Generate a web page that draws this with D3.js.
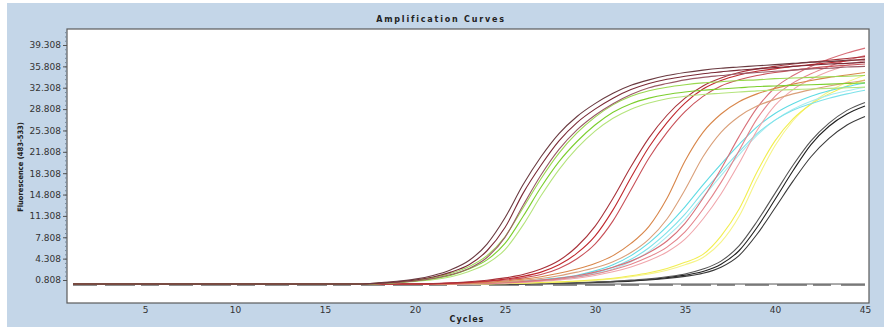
<!DOCTYPE html>
<html>
<head>
<meta charset="utf-8">
<script src="https://cdn.jsdelivr.net/npm/d3@7"></script>
<style>
  body { margin: 0; background: #ffffff; }
  svg { display: block; }
</style>
</head>
<body>
<div id="container"></div>
<script>
let w = 884;
let h = 331;

// ---- data (fluorescence 483-533, read per cycle) ----
let cycles = [1,2,3,4,5, 6,7,8,9,10, 11,12,13,14,15, 16,17,18,19,20, 21,22,23,24,25, 26,27,28,29,30, 31,32,33,34,35, 36,37,38,39,40, 41,42,43,44,45];

let maroon1 = [0.15,0.15,0.15,0.15,0.15, 0.15,0.15,0.15,0.15,0.15, 0.15,0.15,0.15,0.15,0.15, 0.15,0.15,0.3,0.5,0.8, 1.3,2.1,3.3,5.6,9.4, 15.0,19.6,23.6,26.6,28.8, 30.6,32.0,33.0,33.7,34.2, 34.6,34.9,35.2,35.4,35.6, 35.8,36.0,36.2,36.3,36.5];
let maroon2 = [0.15,0.15,0.15,0.15,0.15, 0.15,0.15,0.15,0.15,0.15, 0.15,0.15,0.15,0.15,0.15, 0.15,0.15,0.35,0.6,0.95, 1.55,2.5,4.0,6.7,11.0, 16.4,21.0,24.8,27.6,29.7, 31.4,32.7,33.6,34.3,34.8, 35.2,35.5,35.7,35.9,36.1, 36.3,36.5,36.6,36.8,36.9];
let maroon3 = [0.15,0.15,0.15,0.15,0.15, 0.15,0.15,0.15,0.15,0.15, 0.15,0.15,0.15,0.15,0.15, 0.15,0.15,0.25,0.4,0.65, 1.05,1.7,2.7,4.5,7.8, 13.0,18.0,22.2,25.4,27.8, 29.7,31.2,32.3,33.0,33.6, 34.0,34.3,34.6,34.8,35.0, 35.2,35.4,35.5,35.7,35.8];

let green1 = [0.15,0.15,0.15,0.15,0.15, 0.15,0.15,0.15,0.15,0.15, 0.15,0.15,0.15,0.15,0.15, 0.15,0.15,0.25,0.4,0.65, 1.0,1.6,2.6,4.1,6.8, 11.2,16.0,20.2,23.5,26.2, 28.3,29.7,30.6,31.2,31.6, 31.9,32.1,32.3,32.5,32.6, 32.7,32.8,32.9,33.0,33.1];
let green2 = [0.15,0.15,0.15,0.15,0.15, 0.15,0.15,0.15,0.15,0.15, 0.15,0.15,0.15,0.15,0.15, 0.15,0.15,0.3,0.45,0.75, 1.2,1.9,3.0,4.8,7.9, 12.6,17.4,21.6,24.9,27.5, 29.5,30.9,31.8,32.4,32.8, 33.1,33.3,33.5,33.6,33.8, 33.9,34.0,34.1,34.2,34.3];
let green3 = [0.15,0.15,0.15,0.15,0.15, 0.15,0.15,0.15,0.15,0.15, 0.15,0.15,0.15,0.15,0.15, 0.15,0.15,0.2,0.35,0.55, 0.85,1.35,2.2,3.5,5.8, 9.8,14.6,18.9,22.4,25.2, 27.3,28.8,29.8,30.5,30.9, 31.2,31.4,31.6,31.8,31.9, 32.0,32.1,32.2,32.3,32.4];

let red1 = [0.15,0.15,0.15,0.15,0.15, 0.15,0.15,0.15,0.15,0.15, 0.15,0.15,0.15,0.15,0.15, 0.15,0.15,0.15,0.15,0.15, 0.2,0.3,0.45,0.65,0.95, 1.4,2.1,3.3,5.2,8.0, 12.3,17.6,22.6,26.6,29.8, 32.1,33.5,34.4,35.0,35.4, 35.8,36.1,36.4,36.7,37.0];
let red2 = [0.15,0.15,0.15,0.15,0.15, 0.15,0.15,0.15,0.15,0.15, 0.15,0.15,0.15,0.15,0.15, 0.15,0.15,0.15,0.15,0.15, 0.22,0.35,0.52,0.78,1.15, 1.7,2.6,4.0,6.3,9.6, 14.2,19.4,24.1,27.8,30.6, 32.6,33.9,34.8,35.4,35.8, 36.2,36.5,36.8,37.1,37.4];
let red3 = [0.15,0.15,0.15,0.15,0.15, 0.15,0.15,0.15,0.15,0.15, 0.15,0.15,0.15,0.15,0.15, 0.15,0.15,0.15,0.15,0.15, 0.18,0.26,0.38,0.55,0.8, 1.15,1.7,2.7,4.3,6.7, 10.5,15.6,20.8,25.0,28.4, 30.9,32.6,33.6,34.3,34.8, 35.2,35.5,35.8,36.0,36.2];

let orange1 = [0.15,0.15,0.15,0.15,0.15, 0.15,0.15,0.15,0.15,0.15, 0.15,0.15,0.15,0.15,0.15, 0.15,0.15,0.15,0.15,0.15, 0.15,0.2,0.3,0.45,0.65, 0.95,1.35,1.9,2.6,3.5, 4.8,6.8,9.6,14.2,20.3, 25.0,28.0,30.0,31.3,32.2, 32.9,33.5,34.0,34.4,34.8];
let orange2 = [0.15,0.15,0.15,0.15,0.15, 0.15,0.15,0.15,0.15,0.15, 0.15,0.15,0.15,0.15,0.15, 0.15,0.15,0.15,0.15,0.15, 0.15,0.18,0.25,0.35,0.5, 0.75,1.05,1.5,2.1,2.8, 3.8,5.3,7.5,10.8,15.6, 21.0,25.0,27.6,29.3,30.4, 31.3,32.0,32.6,33.1,33.5];

let cyan1 = [0.15,0.15,0.15,0.15,0.15, 0.15,0.15,0.15,0.15,0.15, 0.15,0.15,0.15,0.15,0.15, 0.15,0.15,0.15,0.15,0.15, 0.15,0.15,0.2,0.3,0.4, 0.55,0.75,1.0,1.4,2.0, 2.9,4.2,6.1,8.6,11.6, 15.2,18.5,21.8,24.8,27.0, 28.6,29.7,30.6,31.3,31.9];
let cyan2 = [0.15,0.15,0.15,0.15,0.15, 0.15,0.15,0.15,0.15,0.15, 0.15,0.15,0.15,0.15,0.15, 0.15,0.15,0.15,0.15,0.15, 0.15,0.15,0.22,0.32,0.45, 0.62,0.85,1.15,1.6,2.3, 3.3,4.8,6.9,9.6,12.8, 16.4,19.8,23.0,25.9,28.1, 29.7,30.9,31.8,32.5,33.1];
let cyan3 = [0.15,0.15,0.15,0.15,0.15, 0.15,0.15,0.15,0.15,0.15, 0.15,0.15,0.15,0.15,0.15, 0.15,0.15,0.15,0.15,0.15, 0.15,0.15,0.18,0.26,0.36, 0.5,0.68,0.9,1.25,1.8, 2.6,3.8,5.5,7.9,10.8, 14.4,17.9,21.3,24.5,27.0, 28.8,30.1,31.1,31.8,32.4];

let pink1 = [0.15,0.15,0.15,0.15,0.15, 0.15,0.15,0.15,0.15,0.15, 0.15,0.15,0.15,0.15,0.15, 0.15,0.15,0.15,0.15,0.15, 0.15,0.15,0.2,0.25,0.35, 0.5,0.7,0.95,1.3,1.8, 2.5,3.4,4.6,6.2,8.7, 12.4,16.8,22.0,27.2,30.9, 33.1,34.6,35.8,36.8,37.6];
let pink2 = [0.15,0.15,0.15,0.15,0.15, 0.15,0.15,0.15,0.15,0.15, 0.15,0.15,0.15,0.15,0.15, 0.15,0.15,0.15,0.15,0.15, 0.15,0.15,0.22,0.3,0.42, 0.58,0.8,1.1,1.5,2.1, 2.9,3.9,5.3,7.2,10.1, 14.2,19.0,24.3,29.0,32.3, 34.3,35.8,37.0,38.0,38.8];
let pink3 = [0.15,0.15,0.15,0.15,0.15, 0.15,0.15,0.15,0.15,0.15, 0.15,0.15,0.15,0.15,0.15, 0.15,0.15,0.15,0.15,0.15, 0.15,0.15,0.18,0.22,0.3, 0.42,0.6,0.82,1.1,1.55, 2.15,2.95,4.0,5.4,7.5, 10.8,14.9,19.9,25.3,29.4, 32.0,33.7,35.0,36.0,36.8];

let yellow1 = [0.15,0.15,0.15,0.15,0.15, 0.15,0.15,0.15,0.15,0.15, 0.15,0.15,0.15,0.15,0.15, 0.15,0.15,0.15,0.15,0.15, 0.15,0.15,0.15,0.2,0.25, 0.3,0.4,0.5,0.65,0.85, 1.1,1.5,2.0,2.7,3.7, 5.0,8.0,12.4,18.5,23.6, 27.2,29.6,31.3,32.6,33.6];
let yellow2 = [0.15,0.15,0.15,0.15,0.15, 0.15,0.15,0.15,0.15,0.15, 0.15,0.15,0.15,0.15,0.15, 0.15,0.15,0.15,0.15,0.15, 0.15,0.15,0.15,0.18,0.22, 0.28,0.36,0.45,0.58,0.75, 1.0,1.35,1.8,2.4,3.3, 4.5,7.0,11.2,17.3,22.8, 26.9,29.7,31.7,33.2,34.4];

let black1 = [0.15,0.15,0.15,0.15,0.15, 0.15,0.15,0.15,0.15,0.15, 0.15,0.15,0.15,0.15,0.15, 0.15,0.15,0.15,0.15,0.15, 0.15,0.15,0.15,0.15,0.15, 0.2,0.25,0.3,0.35,0.45, 0.55,0.7,0.9,1.2,1.6, 2.2,3.4,5.6,9.4,14.0, 18.7,23.0,26.0,28.0,29.3];
let black2 = [0.15,0.15,0.15,0.15,0.15, 0.15,0.15,0.15,0.15,0.15, 0.15,0.15,0.15,0.15,0.15, 0.15,0.15,0.15,0.15,0.15, 0.15,0.15,0.15,0.15,0.15, 0.2,0.25,0.3,0.38,0.48, 0.6,0.78,1.0,1.35,1.8, 2.6,3.9,6.4,10.4,15.0, 19.6,23.6,26.5,28.6,29.9];
let black3 = [0.15,0.15,0.15,0.15,0.15, 0.15,0.15,0.15,0.15,0.15, 0.15,0.15,0.15,0.15,0.15, 0.15,0.15,0.15,0.15,0.15, 0.15,0.15,0.15,0.15,0.15, 0.18,0.22,0.27,0.32,0.4, 0.5,0.62,0.8,1.05,1.4, 1.9,2.9,4.8,8.3,12.6, 17.0,21.0,24.0,26.2,27.6];

// negative control, flat at baseline
let negative = [0.15,0.15,0.15,0.15,0.15, 0.15,0.15,0.15,0.15,0.15, 0.15,0.15,0.15,0.15,0.15, 0.15,0.15,0.15,0.15,0.15, 0.15,0.15,0.15,0.15,0.15, 0.15,0.15,0.15,0.15,0.15, 0.15,0.15,0.15,0.15,0.15, 0.15,0.15,0.15,0.15,0.15, 0.15,0.15,0.15,0.15,0.15];

let yTickValues = [0.808, 4.308, 7.808, 11.308, 14.808, 18.308, 21.808, 25.308, 28.808, 32.308, 35.808, 39.308];
let yTickLabels = ["0.808", "4.308", "7.808", "11.308", "14.808", "18.308", "21.808", "25.308", "28.808", "32.308", "35.808", "39.308"];
let xTickValues = [5, 10, 15, 20, 25, 30, 35, 40, 45];

// curves in drawing order, colours kept apart from the values
let curves = [
  {values: black3, color: "#3a3a3a"},
  {values: black1, color: "#202020"},
  {values: black2, color: "#555555"},
  {values: yellow2, color: "#f6f488"},
  {values: yellow1, color: "#f2ee50"},
  {values: cyan3, color: "#a8ecf0"},
  {values: cyan1, color: "#7ee2ea"},
  {values: cyan2, color: "#5fdbe4"},
  {values: pink3, color: "#f0a6ac"},
  {values: pink1, color: "#e4848c"},
  {values: pink2, color: "#d8707a"},
  {values: orange2, color: "#daa07a"},
  {values: orange1, color: "#d8864a"},
  {values: red3, color: "#c85058"},
  {values: red1, color: "#c0282e"},
  {values: red2, color: "#a8323a"},
  {values: green3, color: "#b4e47c"},
  {values: green2, color: "#9ad850"},
  {values: green1, color: "#7ccf2e"},
  {values: maroon3, color: "#9a5a66"},
  {values: maroon1, color: "#7a2a36"},
  {values: maroon2, color: "#6a3a40"}
];

// 1. svg + panel
let viz = d3.select("#container").append("svg")
    .attr("width", w)
    .attr("height", h);

viz.append("rect")
    .attr("x", 7).attr("y", 3)
    .attr("width", w - 7).attr("height", 324)
    .attr("fill", "#c4d6e8");

// 2. scales (cycle 1 sits at x=73, cycle 45 at x=865)
let plotLeft = 67, plotRight = 869, plotTop = 29, plotBottom = 303;
let xScale = d3.scaleLinear().domain([0.667, 45.222]).range([plotLeft, plotRight]);
let yScale = d3.scaleLinear().domain([-2.96, 41.93]).range([plotBottom, plotTop]);

// 3. plot frame
viz.append("rect")
    .attr("x", plotLeft).attr("y", plotTop)
    .attr("width", plotRight - plotLeft).attr("height", plotBottom - plotTop)
    .attr("fill", "#ffffff")
    .attr("stroke", "#5a5a5a")
    .attr("stroke-width", 1.2);

viz.append("clipPath").attr("id", "plotclip")
  .append("rect")
    .attr("x", plotLeft + 1).attr("y", plotTop + 1)
    .attr("width", plotRight - plotLeft - 2).attr("height", plotBottom - plotTop - 2);

// 4. axes
let yMinor = viz.append("g")
    .attr("transform", "translate(" + plotLeft + ",0)")
    .call(d3.axisLeft(yScale)
      .tickValues(d3.range(0.808, 41.5, 0.7))
      .tickSize(2)
      .tickFormat(""));
yMinor.select(".domain").remove();
yMinor.selectAll("line").attr("stroke", "#7a8a9a");

let yAxis = viz.append("g")
    .attr("transform", "translate(" + plotLeft + ",0)")
    .call(d3.axisLeft(yScale)
      .tickValues(yTickValues)
      .tickSize(4)
      .tickPadding(2)
      .tickFormat(function (d, i) { return yTickLabels[i]; }));
yAxis.select(".domain").remove();
yAxis.selectAll("line").attr("stroke", "#555");
yAxis.selectAll("text")
    .attr("fill", "#333")
    .style("font-family", "DejaVu Sans, sans-serif")
    .style("font-size", "9px");

let xAxis = viz.append("g")
    .attr("transform", "translate(0," + plotBottom + ")")
    .call(d3.axisBottom(xScale)
      .tickValues(xTickValues)
      .tickSize(0)
      .tickPadding(4));
xAxis.select(".domain").remove();
xAxis.selectAll("text")
    .attr("fill", "#333")
    .style("font-family", "DejaVu Sans, sans-serif")
    .style("font-size", "9px");

// 5. curves
let line = d3.line()
    .x(function (d, i) { return xScale(cycles[i]); })
    .y(function (d) { return yScale(d); })
    .curve(d3.curveMonotoneX);

let curveGroup = viz.append("g").attr("clip-path", "url(#plotclip)");

curveGroup.append("path")
    .attr("d", line(negative))
    .attr("fill", "none")
    .attr("stroke", "#555")
    .attr("stroke-width", 1);

curveGroup.append("path")
    .attr("d", line(negative))
    .attr("transform", "translate(0,1)")
    .attr("fill", "none")
    .attr("stroke", "#6a6a6a")
    .attr("stroke-width", 1.6)
    .attr("stroke-dasharray", "24,8,30,6,18,10");

curveGroup.selectAll(".curve").data(curves).enter()
  .append("path")
    .attr("class", "curve")
    .attr("d", function (d) { return line(d.values); })
    .attr("fill", "none")
    .attr("stroke", function (d) { return d.color; })
    .attr("stroke-width", 1.1);

// 6. texts
viz.append("text")
    .attr("x", 441).attr("y", 22)
    .attr("text-anchor", "middle")
    .style("font-family", "DejaVu Sans, sans-serif")
    .style("font-size", "8px")
    .style("font-weight", "bold")
    .style("letter-spacing", "1.8px")
    .attr("fill", "#222")
    .text("Amplification Curves");

viz.append("text")
    .attr("x", 467).attr("y", 322)
    .attr("text-anchor", "middle")
    .style("font-family", "DejaVu Sans, sans-serif")
    .style("font-size", "8px")
    .style("font-weight", "bold")
    .style("letter-spacing", "1px")
    .attr("fill", "#222")
    .text("Cycles");

viz.append("text")
    .attr("transform", "translate(23,167) rotate(-90)")
    .attr("text-anchor", "middle")
    .style("font-family", "DejaVu Sans Condensed, DejaVu Sans, sans-serif")
    .style("font-stretch", "condensed")
    .style("font-size", "7.5px")
    .style("font-weight", "bold")
    .attr("fill", "#222")
    .text("Fluorescence (483-533)");
</script>
</body>
</html>
